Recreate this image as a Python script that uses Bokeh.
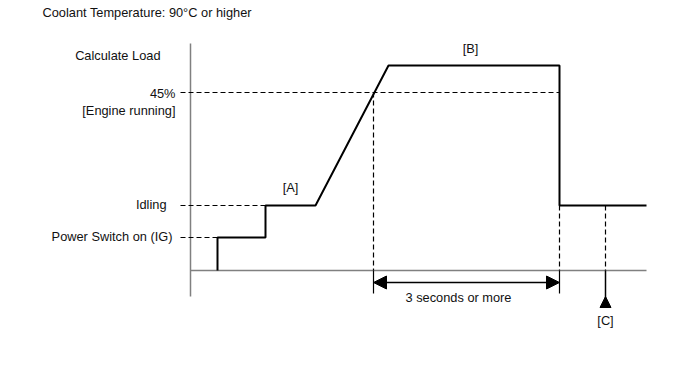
from bokeh.plotting import figure
from bokeh.models import Arrow, NormalHead
from bokeh.embed import file_html
from bokeh.resources import INLINE
from bokeh.core.properties import value

# ---- schematic data (time units from the load axis, load units above baseline) ----
signal_t = [27, 27, 75, 75, 125, 198, 369, 369, 456]
signal_load = [0, 33, 33, 65, 65, 205, 205, 65, 65]

level_ig = 33
level_idle = 65
level_45 = 178
t_ig = 27
t_idle = 75
t_cross45 = 183
t_drop = 369
t_c = 415
t_end = 456
axis_top = 227
axis_bottom = -26

label_texts = ["Calculate Load", "45%", "[Engine running]", "Idling", "Power Switch on (IG)"]
label_x = [-30, -15, -15, -24, -18]
label_y = [215, 177, 160, 66, 34]

FONT = value("Liberation Sans")
FS = "12.8px"
TXT = "#111111"
GRAY = "#808080"

p = figure(width=688, height=358, x_range=(-190, 498), y_range=(-88, 270),
           output_backend="svg", toolbar_location=None,
           x_axis_location=None, y_axis_location=None, min_border=0)
p.grid.visible = False
p.outline_line_color = None
p.background_fill_color = "white"

# axes (gray)
p.segment(x0=[0, 0], y0=[axis_bottom, 0], x1=[0, t_end], y1=[axis_top, 0],
          line_color=GRAY, line_width=1.5)

# dashed reference lines
dash_x0 = [-10, -10, -10, t_cross45, t_drop, t_c]
dash_y0 = [level_45, level_idle, level_ig, level_45, level_idle, level_idle]
dash_x1 = [t_drop, t_idle, t_ig, t_cross45, t_drop, t_c]
dash_y1 = [level_45, level_idle, level_ig, 0, 0, 0]
p.segment(x0=dash_x0, y0=dash_y0, x1=dash_x1, y1=dash_y1,
          line_color="black", line_width=1.2, line_dash="5 3")

# signal
p.line(signal_t, signal_load, line_color="black", line_width=2)

# dimension extension lines
p.segment(x0=[t_cross45, t_drop], y0=[0, 0], x1=[t_cross45, t_drop], y1=[-23, -23],
          line_color="black", line_width=1.2)

# double-headed arrow "3 seconds or more"
p.add_layout(Arrow(x_start=t_cross45, y_start=-12, x_end=t_drop, y_end=-12,
                   line_color="black", line_width=1.5,
                   start=NormalHead(size=13, fill_color="black", line_color="black"),
                   end=NormalHead(size=13, fill_color="black", line_color="black")))

# [C] marker
p.segment(x0=[t_c], y0=[0], x1=[t_c], y1=[-37], line_color="black", line_width=1.5)
p.add_layout(Arrow(x_start=t_c, y_start=-37, x_end=t_c, y_end=-26,
                   line_color="black", line_width=1.5,
                   end=NormalHead(size=11, fill_color="black", line_color="black")))

# level labels
p.text(x=label_x, y=label_y, text=label_texts, text_align="right", text_baseline="middle",
       text_font=FONT, text_font_size=FS, text_color=TXT)

# other texts
p.text(x=[-148], y=[258], text=["Coolant Temperature: 90°C or higher"], text_align="left",
       text_baseline="middle", text_font=FONT, text_font_size=FS, text_color=TXT)
p.text(x=[100, 280, 268, t_c], y=[83, 222, -27, -50],
       text=["[A]", "[B]", "3 seconds or more", "[C]"], text_align="center",
       text_baseline="middle", text_font=FONT, text_font_size=FS, text_color=TXT)

open("out.html", "w").write(file_html(p, INLINE))
